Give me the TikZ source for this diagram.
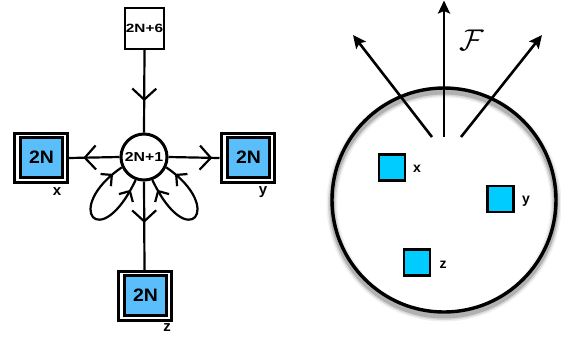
\documentclass[tikz,border=0pt]{standalone}
\usepackage{fontspec}
\setmainfont{Liberation Sans}
\usepackage{graphicx}
\usetikzlibrary{arrows.meta,decorations.markings}
\definecolor{boxblue}{RGB}{90,190,250}
\definecolor{cyanbox}{RGB}{0,204,255}
\begin{document}
\begin{tikzpicture}[x=1pt,y=-1pt,
  outerbox/.style={draw, line width=3pt, minimum width=53pt, minimum height=49pt, inner sep=0pt},
  innerbox/.style={draw, line width=2.2pt, fill=boxblue, minimum width=42pt, minimum height=40pt, inner sep=0pt,
     font=\bfseries\fontsize{18}{18}\selectfont},
  lab/.style={font=\bfseries\fontsize{15}{15}\selectfont, inner sep=0pt},
  rlab/.style={font=\bfseries\fontsize{14}{14}\selectfont, inner sep=0pt},
  conn/.style={line width=2.2pt},
  vfwd/.style={postaction={decorate, decoration={markings,
     mark=at position #1 with {\draw[line width=2.2pt] (-11pt,12pt) -- (0pt,0pt) -- (-11pt,-12pt);}}}},
  sfwd/.style={postaction={decorate, decoration={markings,
     mark=at position #1 with {\draw[line width=2.2pt] (-8pt,8pt) -- (0pt,0pt) -- (-8pt,-8pt);}}}},
  sback/.style={postaction={decorate, decoration={markings,
     mark=at position #1 with {\draw[line width=2.2pt] (8pt,8pt) -- (0pt,0pt) -- (8pt,-8pt);}}}},
  farrow/.style={line width=2.6pt, -{Stealth[length=13pt,width=12pt,inset=2.5pt]}},
  sq/.style={draw, line width=2.2pt, fill=cyanbox, minimum size=26pt, inner sep=0pt},
]
\useasboundingbox (0,0) rectangle (561,341);

% ---------- left panel ----------
\node[circle, draw, line width=3pt, minimum size=46pt, inner sep=0pt,
      font=\bfseries\fontsize{13}{13}\selectfont] (c) at (144,157) {\scalebox{1.22}[1]{2N+1}};
\node[draw, line width=2.4pt, minimum width=39pt, minimum height=41pt, inner sep=0pt,
      font=\bfseries\fontsize{12}{12}\selectfont] (t) at (144.5,28.5) {\scalebox{1.28}[1]{2N+6}};

\node[outerbox] (x) at (40.5,158) {};
\node[innerbox] (xin) at (41.5,157.5) {\scalebox{1.08}[1]{2N}};
\node[outerbox] (y) at (247.5,158) {};
\node[innerbox] (yin) at (248.5,157.5) {\scalebox{1.08}[1]{2N}};
\node[outerbox] (z) at (144.5,296) {};
\node[innerbox] (zin) at (145.5,295.5) {\scalebox{1.08}[1]{2N}};

\node[lab] (xl) at (57,192) {x};
\node[lab] (yl) at (263,192) {y};
\node[lab] (zl) at (167,328) {z};

\draw[conn, vfwd=0.6] (t.south) -- (c.north);
\draw[conn, vfwd=0.68] (c.west) -- (x.east);
\draw[conn, vfwd=0.83] (c.east) -- (y.west);
\draw[conn, vfwd=0.45] (c.south) -- (z.north);

\draw[conn, sback=0.1, sfwd=0.9] (c.205) .. controls (62,208) and (100,255) .. (c.250);
\draw[conn, sback=0.1, sfwd=0.9] (c.335) .. controls (226,208) and (188,255) .. (c.290);

% ---------- right panel ----------
\foreach \w/\o in {11/0.06,8/0.1,5/0.18} {
  \draw[black, line width=\w pt, opacity=\o] (444,204) circle[radius=112];
}
\draw[line width=3.4pt] (444,200) circle[radius=112];

\coordinate (o1) at (432,137);
\coordinate (o2) at (444,137);
\coordinate (o3) at (461,137);
\coordinate (e1) at (353,35);
\coordinate (e2) at (444,0.5);
\coordinate (e3) at (542,35);
\draw[farrow] (o1) -- (e1);
\draw[farrow] (o2) -- (e2);
\draw[farrow] (o3) -- (e3);
\node (F) at (472,40) {\scalebox{3}{$\mathcal{F}$}};

\node[sq] (sx) at (392,167.5) {};
\node[sq] (sy) at (500.5,199) {};
\node[sq] (sz) at (417,262.5) {};
\node[rlab] (sxl) at (417,169) {x};
\node[rlab] (syl) at (526,201) {y};
\node[rlab] (szl) at (443,265) {z};
\end{tikzpicture}
\end{document}
